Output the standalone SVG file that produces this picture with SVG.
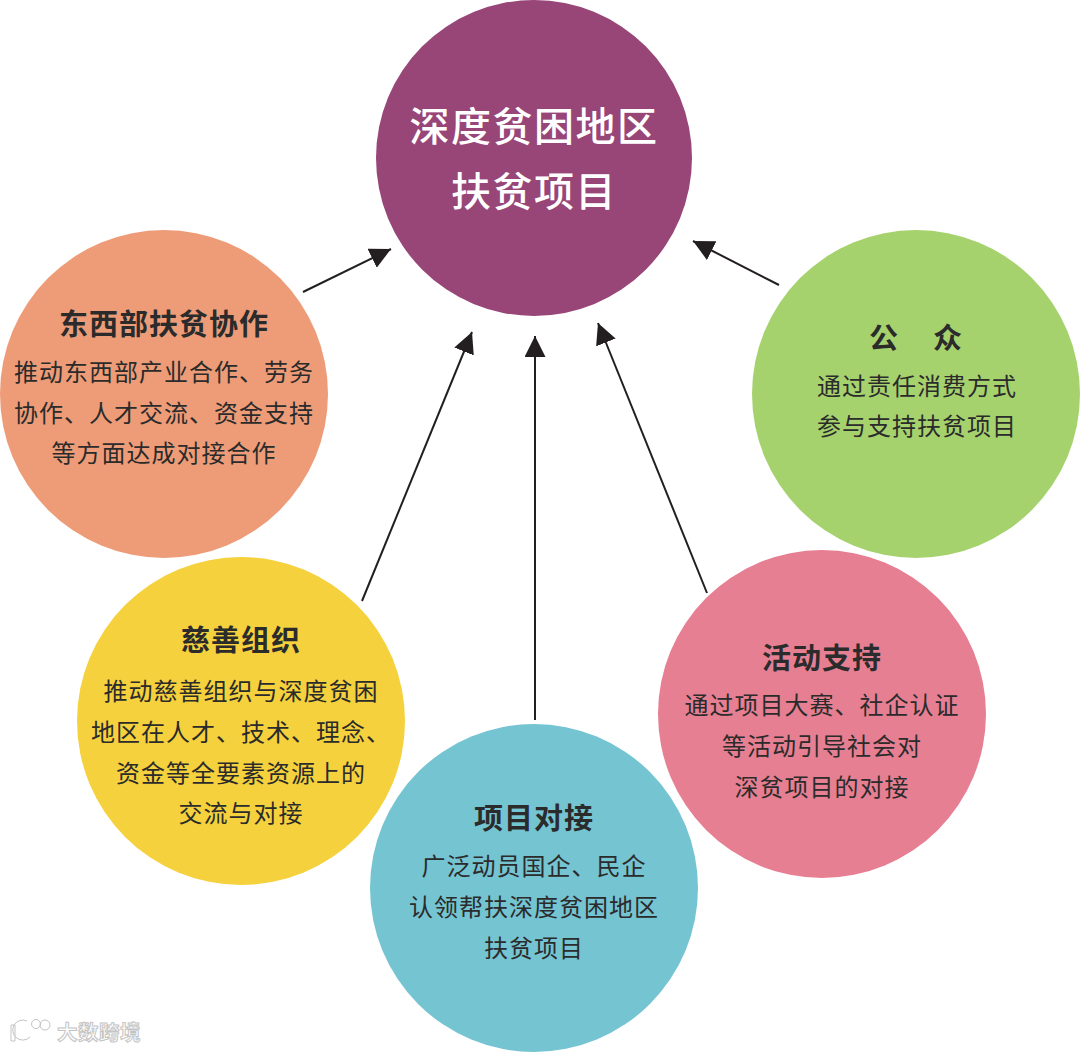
<svg xmlns="http://www.w3.org/2000/svg" width="1080" height="1052" viewBox="0 0 1080 1052">
<style>
text{font-family:"Noto Sans CJK SC","Noto Sans CJK JP",sans-serif;text-anchor:middle;fill:#2b2b2b}
.b{font-size:24px;letter-spacing:1px}
.h{font-size:29px;font-weight:700;letter-spacing:1px}
.t{font-size:40px;fill:#fff;font-weight:500;letter-spacing:1.5px}
.c{stroke:#231f20;stroke-width:2;fill:none;marker-end:url(#a)}
.w{font-size:20.5px;fill:#fff;stroke:#c4c4c4;stroke-width:1;font-weight:700;letter-spacing:0.5px}
.l{fill:none;stroke:#c4c4c4;stroke-width:1}
.l2{fill:none;stroke:#fff;stroke-width:3}
</style>
<defs><marker id="a" markerUnits="userSpaceOnUse" markerWidth="24" markerHeight="24" refX="21" refY="10.5" orient="auto"><path d="M0 0L21 10.500L0 21Z" fill="#231f20"/></marker></defs>
<rect width="1080" height="1052" fill="#fff"/>
<g id="connectors">
<path class="c" d="M303 292L391 249"/>
<path class="c" d="M779 285L693 241"/>
<path class="c" d="M362 601L472 332"/>
<path class="c" d="M535 720V336"/>
<path class="c" d="M707 593L598 323"/>
</g>
<g id="center"><circle cx="534" cy="158" r="158" fill="#984578"/>
<text class="t" x="534" y="141">深度贫困地区</text><text class="t" x="534" y="206">扶贫项目</text></g>
<g id="east-west"><circle cx="164" cy="394" r="164" fill="#ee9c78"/>
<text class="h" x="164" y="335">东西部扶贫协作</text>
<text class="b" x="164" y="381">推动东西部产业合作、劳务</text>
<text class="b" x="164" y="422">协作、人才交流、资金支持</text>
<text class="b" x="164" y="462">等方面达成对接合作</text></g>
<g id="public"><circle cx="916" cy="394" r="164" fill="#a6d26e"/>
<text class="h" x="917" y="349" style="letter-spacing:3px">公　众</text>
<text class="b" x="917" y="395">通过责任消费方式</text>
<text class="b" x="917" y="435">参与支持扶贫项目</text></g>
<g id="charity"><circle cx="241" cy="721" r="164" fill="#f5d13d"/>
<text class="h" x="241" y="651">慈善组织</text>
<text class="b" x="241" y="700">推动慈善组织与深度贫困</text>
<text class="b" x="241" y="741">地区在人才、技术、理念、</text>
<text class="b" x="241" y="782">资金等全要素资源上的</text>
<text class="b" x="241" y="822">交流与对接</text></g>
<g id="activity"><circle cx="822" cy="714" r="164" fill="#e77f93"/>
<text class="h" x="822" y="669">活动支持</text>
<text class="b" x="822" y="714">通过项目大赛、社企认证</text>
<text class="b" x="822" y="755">等活动引导社会对</text>
<text class="b" x="822" y="796">深贫项目的对接</text></g>
<g id="matching"><circle cx="534" cy="888" r="164" fill="#75c4d2"/>
<text class="h" x="534" y="829">项目对接</text>
<text class="b" x="534" y="875">广泛动员国企、民企</text>
<text class="b" x="534" y="916">认领帮扶深度贫困地区</text>
<text class="b" x="534" y="957">扶贫项目</text></g>
<g id="watermark">
<path class="l2" d="M13 1026V1040M30 1034A8 8 0 1 1 27 1024M27 1033V1026"/>
<circle class="l2" cx="36" cy="1024" r="3"/><circle class="l2" cx="45" cy="1025" r="3.500"/>
<path class="l" d="M11 1025V1041H15V1025ZM30 1037A10 10 0 1 1 27 1021"/>
<circle class="l" cx="36" cy="1024" r="4.500"/><circle class="l" cx="45" cy="1025" r="5"/>
<text class="w" x="99" y="1040">大数跨境</text>
</g>
</svg>
